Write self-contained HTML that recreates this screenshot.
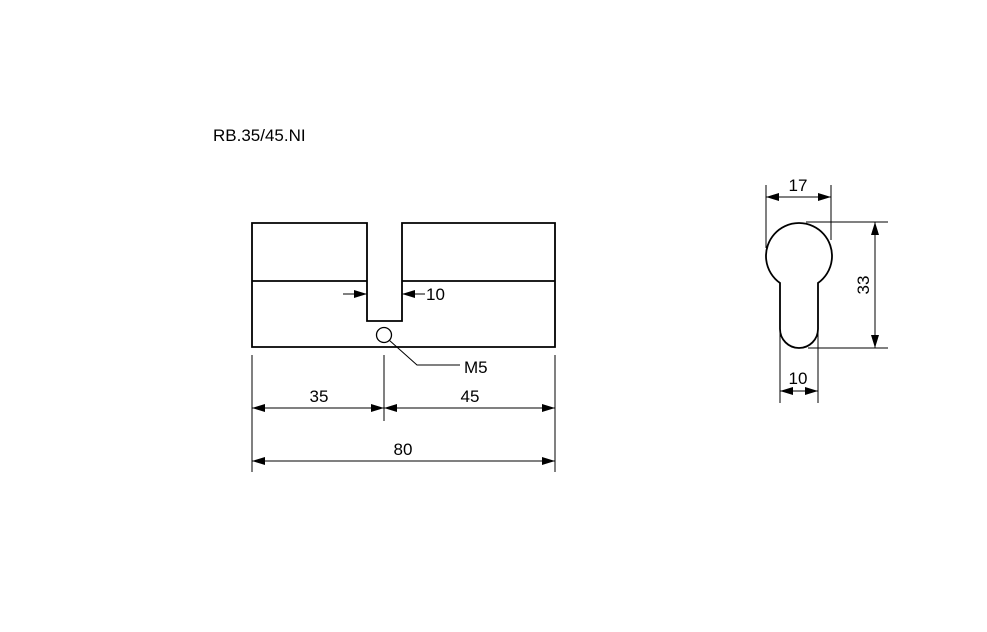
<!DOCTYPE html>
<html><head><style>body{margin:0;background:#fff}svg{display:block}text{font-family:"Liberation Sans",Arial,sans-serif;fill:#000}</style></head><body>
<svg width="987" height="632" viewBox="0 0 987 632">
<defs><marker id="a" viewBox="0 0 13 8" refX="13" refY="4" markerWidth="13" markerHeight="8" orient="auto-start-reverse" markerUnits="userSpaceOnUse"><path d="M0,0L13,4L0,8Z" fill="#000"/></marker></defs>
<text x="213" y="141" font-size="17">RB.35/45.NI</text>
<g stroke="#000" fill="none" stroke-width="1.8">
<path d="M367,223H252V347H555V223H402V321H367Z"/>
<path d="M252,281H367M402,281H555"/>
<circle cx="384" cy="335" r="7.5" stroke-width="1.3"/>
</g>
<g stroke="#000" fill="none" stroke-width="1">
<path d="M389,340L417,365H460"/>
<path d="M343,294H367" marker-end="url(#a)"/>
<path d="M425,294H402" marker-end="url(#a)"/>
<path d="M252,355V472M555,355V472M384,355V421"/>
<path d="M252,408H384" marker-start="url(#a)" marker-end="url(#a)"/>
<path d="M384,408H555" marker-start="url(#a)" marker-end="url(#a)"/>
<path d="M252,461H555" marker-start="url(#a)" marker-end="url(#a)"/>
<path d="M766,185V248M831,185V240"/>
<path d="M766,197H831" marker-start="url(#a)" marker-end="url(#a)"/>
<path d="M806,222H888M808,348H888"/>
<path d="M875,222V348" marker-start="url(#a)" marker-end="url(#a)"/>
<path d="M780,330V403M818,330V403"/>
<path d="M780,391H818" marker-start="url(#a)" marker-end="url(#a)"/>
</g>
<path d="M780,283A33,33 0 1 1 818,283L818,329A19,19 0 0 1 780,329Z" stroke="#000" stroke-width="1.8" fill="none"/>
<g font-size="17">
<text x="426" y="300">10</text>
<text x="464" y="373">M5</text>
<text x="319" y="402" text-anchor="middle">35</text>
<text x="470" y="402" text-anchor="middle">45</text>
<text x="403" y="455" text-anchor="middle">80</text>
<text x="798" y="191" text-anchor="middle">17</text>
<text x="798" y="384" text-anchor="middle">10</text>
<text transform="translate(869,285) rotate(-90)" text-anchor="middle">33</text>
</g>
</svg>
</body></html>
